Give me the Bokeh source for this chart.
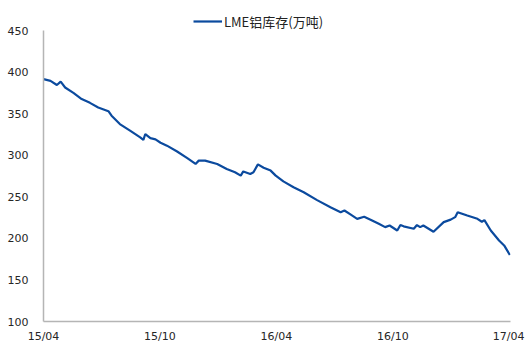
import datetime as dt
from bokeh.plotting import figure
from bokeh.models import (ColumnDataSource, FixedTicker, DatetimeTickFormatter,
                          Range1d, Legend, LegendItem)
from bokeh.embed import file_html
from bokeh.resources import INLINE

# ---- data ----
dates = [
    "2015-04-01", "2015-04-12", "2015-04-22", "2015-04-28", "2015-05-05",
    "2015-05-18", "2015-05-31", "2015-06-13", "2015-06-26", "2015-07-12",
    "2015-07-17", "2015-07-30", "2015-08-15", "2015-08-31", "2015-09-05",
    "2015-09-08", "2015-09-16", "2015-09-24", "2015-10-02", "2015-10-12",
    "2015-10-28", "2015-11-13", "2015-11-26", "2015-12-01", "2015-12-11",
    "2015-12-30", "2016-01-14", "2016-01-27", "2016-02-05", "2016-02-09",
    "2016-02-20", "2016-02-25", "2016-03-03", "2016-03-12", "2016-03-23",
    "2016-03-31", "2016-04-12", "2016-04-28", "2016-05-14", "2016-06-04",
    "2016-06-25", "2016-07-11", "2016-07-17", "2016-07-27", "2016-08-06",
    "2016-08-17", "2016-08-27", "2016-09-09", "2016-09-19", "2016-09-26",
    "2016-10-08", "2016-10-13", "2016-10-18", "2016-11-03", "2016-11-08",
    "2016-11-13", "2016-11-18", "2016-12-04", "2016-12-20", "2016-12-31",
    "2017-01-07", "2017-01-11", "2017-01-26", "2017-02-11", "2017-02-18",
    "2017-02-22", "2017-03-04", "2017-03-17", "2017-03-25", "2017-04-03",
]
stock = [
    391.5, 389.5, 384.5, 388.5, 381.5,
    375.0, 367.5, 363.0, 357.5, 353.0,
    347.5, 337.5, 329.5, 321.5, 318.5,
    325.5, 320.5, 319.0, 315.0, 311.5,
    304.5, 296.5, 289.5, 293.5, 293.5,
    289.5, 283.5, 279.5, 275.5, 280.5,
    277.5, 279.5, 289.0, 285.0, 281.5,
    275.5, 268.5, 261.5, 255.5, 246.0,
    237.5, 231.5, 233.5, 228.5, 223.5,
    226.0, 222.5, 217.5, 213.5, 215.5,
    209.5, 216.0, 214.5, 211.5, 216.0,
    213.5, 215.5, 208.0, 219.5, 222.5,
    225.5, 231.5, 227.5, 223.5, 220.0,
    222.0, 209.5, 197.5, 191.5, 180.0,
]
tick_dates = ["2015-04-01", "2015-10-01", "2016-04-01", "2016-10-01", "2017-04-01"]
y_ticks = [100, 150, 200, 250, 300, 350, 400, 450]
series_name = "LME铝库存(万吨)"

# ---- build ----
def to_dt(s):
    return dt.datetime.strptime(s, "%Y-%m-%d")

def to_ms(s):
    return (to_dt(s) - dt.datetime(1970, 1, 1)).total_seconds() * 1000.0

src = ColumnDataSource(dict(x=[to_dt(d) for d in dates], y=stock))

# the frame reaches a little above 450 so that the legend can sit inside it;
# the y axis line itself is bounded to 100..450
p = figure(width=526, height=345, output_backend="svg", toolbar_location=None,
           x_axis_type="datetime",
           x_range=Range1d(to_dt("2015-04-01"), to_dt("2017-04-04")),
           y_range=Range1d(100, 481.3),
           min_border_left=43, min_border_right=16, min_border_top=4,
           min_border_bottom=24)

r = p.line("x", "y", source=src, line_color="#0b4a9e", line_width=2.2)

p.xgrid.visible = False
p.ygrid.visible = False
p.outline_line_color = None
p.background_fill_color = "white"
p.border_fill_color = "white"

for ax in (p.xaxis[0], p.yaxis[0]):
    ax.axis_line_color = "#b5b5b5"
    ax.axis_line_width = 1.5
    ax.major_tick_line_color = None
    ax.minor_tick_line_color = None
    ax.major_tick_out = 0
    ax.major_tick_in = 0
    ax.minor_tick_out = 0
    ax.minor_tick_in = 0
    ax.major_label_text_font = "DejaVu Sans"
    ax.major_label_text_font_size = "11px"
    ax.major_label_text_color = "#262626"

p.xaxis[0].ticker = FixedTicker(ticks=[to_ms(d) for d in tick_dates])
fmt = "%y/%m"
p.xaxis[0].formatter = DatetimeTickFormatter(
    years=fmt, months=fmt, days=fmt, hours=fmt, minutes=fmt, seconds=fmt,
    milliseconds=fmt, microseconds=fmt, hourmin=fmt, minsec=fmt)
p.xaxis[0].major_label_standoff = 8
p.yaxis[0].ticker = FixedTicker(ticks=y_ticks)
p.yaxis[0].bounds = (100, 450)
p.yaxis[0].major_label_standoff = 15

legend = Legend(items=[LegendItem(label=series_name, renderers=[r])],
                location=(150, 290), orientation="horizontal",
                border_line_color=None, background_fill_alpha=0,
                padding=0, margin=0, spacing=0,
                glyph_width=29, glyph_height=20, label_height=20,
                label_standoff=2,
                label_text_font="Noto Sans CJK SC",
                label_text_font_size="13px", label_text_color="#222222")
p.add_layout(legend, "center")

open("out.html", "w").write(file_html(p, INLINE))
